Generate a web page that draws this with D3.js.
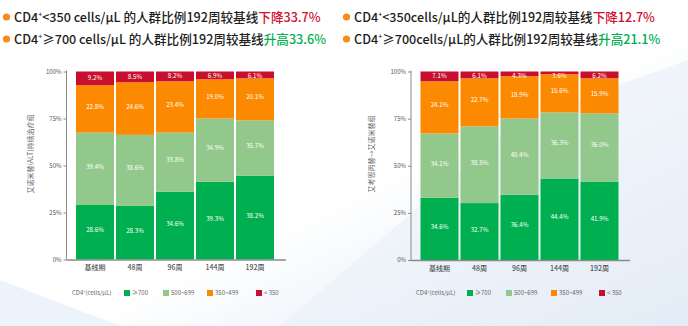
<!DOCTYPE html>
<html><head><meta charset="utf-8">
<script src="https://cdn.jsdelivr.net/npm/d3@7"></script>
<style>html,body{margin:0;padding:0;background:#fff}svg{display:block}</style>
</head><body>
<svg id="c" width="688" height="326"></svg>
<script>
const categories = ["基线期","48周","96周","144周","192周"];
const seriesNames = ["≥700","500~699","350~499","< 350"];
const colors = ["#00b050","#92c88b","#fb8a00","#c8102e"];
const tickLabels = ["0%","25%","50%","75%","100%"];
const tickValues = [0,25,50,75,100];

// left chart: segment heights (as drawn) and printed labels
const leftG  = [29.0,28.5,36.0,41.3,44.5];
const leftLG = [38.5,37.8,31.5,33.7,29.5];
const leftO  = [25.2,28.0,27.3,20.9,22.4];
const leftR  = [7.3,5.7,5.2,4.1,3.6];
const leftLabG  = ["28.6%","28.3%","34.6%","39.3%","38.2%"];
const leftLabLG = ["39.4%","38.6%","33.8%","34.9%","35.7%"];
const leftLabO  = ["22.8%","24.6%","23.4%","19.0%","20.1%"];
const leftLabR  = ["9.2%","8.5%","8.2%","6.9%","6.1%"];

// right chart
const rightG  = [33.0,30.2,34.6,43.2,41.6];
const rightLG = [34.1,40.7,40.5,35.1,36.2];
const rightO  = [27.7,25.5,22.4,20.3,18.6];
const rightR  = [5.2,3.6,2.5,1.4,3.6];
const rightLabG  = ["34.6%","32.7%","36.4%","44.4%","41.9%"];
const rightLabLG = ["34.1%","38.5%","40.4%","36.3%","36.0%"];
const rightLabO  = ["24.1%","22.7%","18.9%","15.6%","15.9%"];
const rightLabR  = ["7.1%","6.1%","4.3%","3.6%","6.2%"];

const FONT = "'Noto Sans CJK SC','Noto Sans',sans-serif";
const svg = d3.select("#c");

// background
const defs = svg.append("defs");
const lg = defs.append("linearGradient").attr("id","bg").attr("x1","0").attr("y1","0").attr("x2","1").attr("y2","1");
lg.append("stop").attr("offset","0").attr("stop-color","#ffffff");
lg.append("stop").attr("offset","0.55").attr("stop-color","#ffffff");
lg.append("stop").attr("offset","1").attr("stop-color","#dbe6f3");
svg.append("rect").attr("width",688).attr("height",326).attr("fill","url(#bg)");
svg.append("path").attr("d","M0,326 L0,280 L120,326 Z").attr("fill","#e6eef8").attr("opacity",0.7);
svg.append("path").attr("d","M280,326 L520,120 L688,60 L688,326 Z").attr("fill","#e9f0f9").attr("opacity",0.6);

// titles
function title(x, y, parts){
  svg.append("circle").attr("cx",x-7.5).attr("cy",y-5).attr("r",3.6).attr("fill","#f98a1b");
  const t = svg.append("text").attr("x",x).attr("y",y).attr("font-family",FONT)
    .attr("font-size",12.6).attr("font-weight",500);
  parts.forEach(p=>{
    const s = t.append("tspan").text(p.t).attr("fill",p.c||"#1e1e1e");
    if(p.sup){ s.attr("font-size",7).attr("dy",-5); }
    if(p.down){ s.attr("dy",5); }
  });
}
title(14,22,[{t:"CD4"},{t:"+",sup:true},{t:"<350 cells/μL 的人群比例192周较基线",down:true},{t:"下降33.7%",c:"#cf1030"}]);
title(14,44,[{t:"CD4"},{t:"+",sup:true},{t:"≥700 cells/μL 的人群比例192周较基线",down:true},{t:"升高33.6%",c:"#00b050"}]);
title(354,22,[{t:"CD4"},{t:"+",sup:true},{t:"<350cells/μL的人群比例192周较基线",down:true},{t:"下降12.7%",c:"#cf1030"}]);
title(354,44,[{t:"CD4"},{t:"+",sup:true},{t:"≥700cells/μL的人群比例192周较基线",down:true},{t:"升高21.1%",c:"#00b050"}]);

function chart(cfg){
  const x = d3.scaleBand().domain(categories).range([cfg.x0, cfg.x1]).paddingInner(0.05).paddingOuter(0);
  const y = d3.scaleLinear().domain([0,100]).range([cfg.yb, cfg.yt]);
  const g = svg.append("g");
  const segs = [cfg.g, cfg.lg, cfg.o, cfg.r];
  const labs = [cfg.labG, cfg.labLG, cfg.labO, cfg.labR];
  const rows = categories.map((c,i)=>{ const o={cat:c}; seriesNames.forEach((s,k)=>o[s]=segs[k][i]); return o; });
  const stack = d3.stack().keys(seriesNames)(rows);
  stack.forEach((layer,k)=>{
    g.selectAll(null).data(layer).join("rect")
      .attr("x",d=>x(d.data.cat)).attr("width",x.bandwidth())
      .attr("y",d=>y(d[1])).attr("height",d=>y(d[0])-y(d[1]))
      .attr("fill",colors[k]);
  });
  stack.forEach((layer,k)=>{
    g.selectAll(null).data(layer).join("text")
      .attr("x",d=>x(d.data.cat)+x.bandwidth()/2)
      .attr("y",d=>{ const c=(y(d[0])+y(d[1]))/2; return k===3 ? Math.max(c+2, cfg.yt+6) : c; })
      .attr("text-anchor","middle").attr("font-family",FONT).attr("font-size",6.2)
      .attr("fill","#ffffff").text((d,i)=>labs[k][i]);
  });
  // axes
  const ax = cfg.x0 - 9.5;
  g.append("line").attr("x1",ax).attr("x2",ax).attr("y1",cfg.yt-1).attr("y2",cfg.yb).attr("stroke","#8a8a8a").attr("stroke-width",1);
  g.append("line").attr("x1",ax).attr("x2",cfg.axEnd).attr("y1",cfg.yb+0.5).attr("y2",cfg.yb+0.5).attr("stroke","#8a8a8a").attr("stroke-width",1.5);
  const yAxis = d3.axisLeft(y).tickValues(tickValues).tickSize(3).tickPadding(2).tickFormat((d,i)=>tickLabels[i]);
  const ya = g.append("g").attr("transform",`translate(${ax},0)`).call(yAxis);
  ya.select(".domain").remove();
  ya.selectAll("line").attr("stroke","#8a8a8a");
  ya.selectAll("text").attr("font-family",FONT).attr("font-size",6).attr("fill","#555");
  const xAxis = d3.axisBottom(x).tickSize(0).tickPadding(6);
  const xa = g.append("g").attr("transform",`translate(0,${cfg.yb})`).call(xAxis);
  xa.select(".domain").remove();
  xa.selectAll("text").attr("font-family",FONT).attr("font-size",7).attr("font-weight",500).attr("fill","#555");
  // y title
  g.append("text").attr("transform",`translate(${cfg.tx},154) rotate(-90)`)
    .attr("text-anchor","middle").attr("dominant-baseline","middle")
    .attr("font-family",FONT).attr("font-size",7).attr("fill","#666").text(cfg.ytitle);
  // legend
  const ly = 293;
  const lt = g.append("text").attr("x",cfg.legX).attr("y",ly+2.2).attr("font-family",FONT).attr("font-size",6).attr("fill","#666");
  lt.append("tspan").text("CD4");
  lt.append("tspan").text("+").attr("font-size",4).attr("dy",-2.5);
  lt.append("tspan").text("(cells/μL)").attr("dy",2.5);
  seriesNames.forEach((s,k)=>{
    g.append("rect").attr("x",cfg.legSq[k]).attr("y",ly-3).attr("width",6).attr("height",6).attr("fill",colors[k]);
    g.append("text").attr("x",cfg.legSq[k]+8).attr("y",ly+2.2).attr("font-family",FONT).attr("font-size",6).attr("fill","#666").text(s);
  });
}

chart({x0:76,x1:274,yb:259.5,yt:71.5,axEnd:286,tx:31,ytitle:"艾诺米替(ALT)持续治疗组",
  g:leftG,lg:leftLG,o:leftO,r:leftR,labG:leftLabG,labLG:leftLabLG,labO:leftLabO,labR:leftLabR,
  legX:72,legSq:[124,163,207,256]});
chart({x0:420.5,x1:618.5,yb:260,yt:71.5,axEnd:630,tx:372,ytitle:"艾考恩丙替→艾诺米替组",
  g:rightG,lg:rightLG,o:rightO,r:rightR,labG:rightLabG,labLG:rightLabLG,labO:rightLabO,labR:rightLabR,
  legX:416,legSq:[467,506,551,599]});
</script>
</body></html>
